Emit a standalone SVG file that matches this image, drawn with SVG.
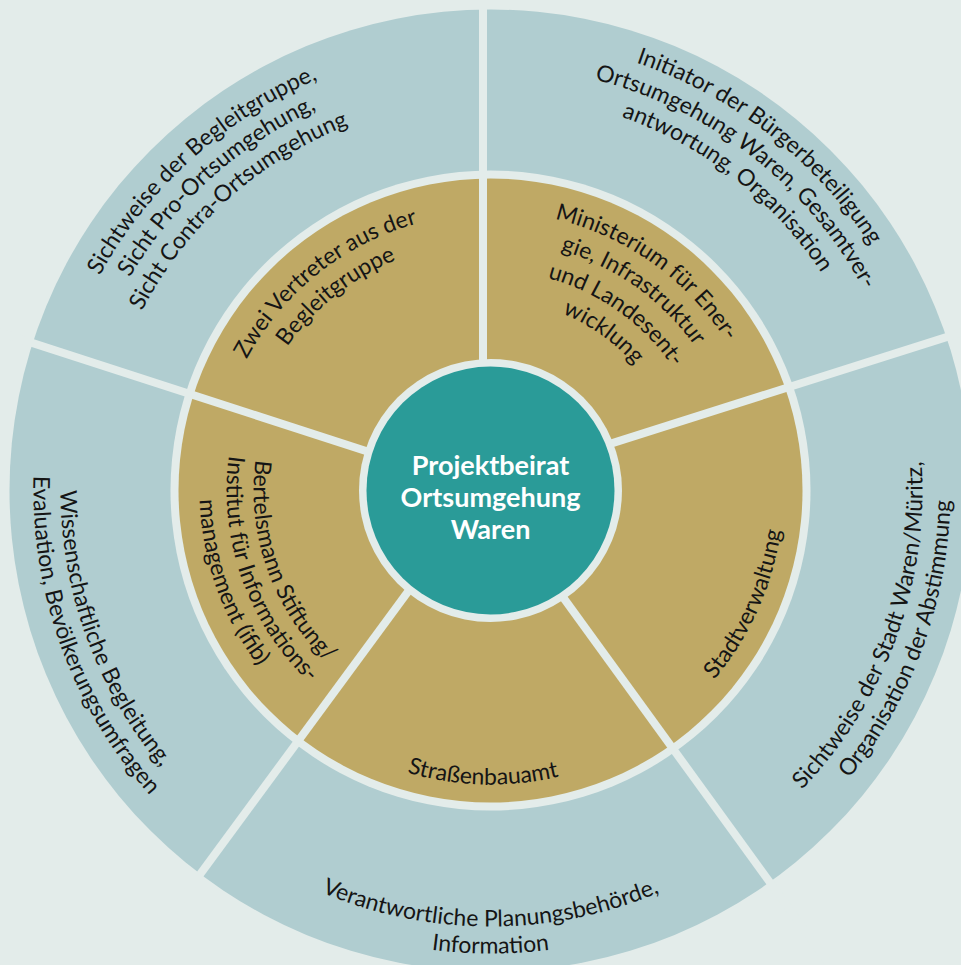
<svg xmlns="http://www.w3.org/2000/svg" width="961" height="965" viewBox="0 0 961 965">
<style>
.bg{fill:#e3ecea}
.outer{fill:#b0cdd0}
.gold{fill:#bfa965}
.teal{fill:#2a9b98}
.div{stroke:#e3ecea;stroke-width:8;fill:none}
.lbl{font-family:Lato,"Open Sans","Liberation Sans",sans-serif;font-size:23px;fill:#151515}
.ctr{font-family:Lato,"Open Sans","Liberation Sans",sans-serif;font-size:27px;font-weight:bold;fill:#ffffff;text-anchor:middle}
</style>
<defs>
<path id="a1" d="M54.3,583.2 A446,446 0 0 1 628.3,66.3"/>
<path id="a2" d="M80.7,577.6 A419,419 0 0 1 620.0,92.0"/>
<path id="a3" d="M107.1,572.0 A392,392 0 0 1 611.6,117.7"/>
<path id="b1" d="M321.2,71.4 A452,452 0 0 1 938.1,553.4"/>
<path id="b2" d="M331.7,97.4 A424,424 0 0 1 910.4,549.5"/>
<path id="b3" d="M342.2,123.3 A396,396 0 0 1 882.7,545.6"/>
<path id="c1" d="M565.5,915.9 A432,432 0 0 0 821.4,212.8"/>
<path id="c2" d="M570.4,943.5 A460,460 0 0 0 842.9,194.8"/>
<path id="d1" d="M112.9,708.5 A436,436 0 0 0 868.1,708.5"/>
<path id="d2" d="M89.5,722.0 A463,463 0 0 0 891.5,722.0"/>
<path id="e1" d="M161.1,214.1 A430,430 0 0 0 415.9,914.0"/>
<path id="e2" d="M140.4,196.7 A457,457 0 0 0 411.2,940.6"/>
<path id="f1" d="M216.6,531.4 A277,277 0 0 1 592.0,232.8"/>
<path id="f2" d="M244.2,527.3 A249,249 0 0 1 581.8,258.8"/>
<path id="g1" d="M374.8,236.6 A279,279 0 0 1 768.2,517.2"/>
<path id="g2" d="M386.8,263.0 A250,250 0 0 1 739.4,514.5"/>
<path id="g3" d="M399.3,290.3 A220,220 0 0 1 709.5,511.6"/>
<path id="g4" d="M411.3,316.7 A191,191 0 0 1 680.6,508.8"/>
<path id="h1" d="M521.1,781.9 A293,293 0 0 0 727.5,318.3"/>
<path id="i1" d="M232.1,630.8 A294,294 0 0 0 741.2,644.1"/>
<path id="j1" d="M310.3,336.6 A237,237 0 0 0 447.3,723.5"/>
<path id="j2" d="M289.8,319.1 A264,264 0 0 0 442.4,750.1"/>
<path id="j3" d="M269.2,301.5 A291,291 0 0 0 437.5,776.6"/>
</defs>
<rect class="bg" x="0" y="0" width="961" height="965"/>
<g id="rings">
<circle class="outer" cx="490.5" cy="490.5" r="481"/>
<circle class="bg" cx="490.5" cy="490.5" r="320"/>
<circle class="gold" cx="490.5" cy="490.5" r="312"/>
</g>
<g id="connectors">
<line class="div" x1="483" y1="491" x2="483" y2="-10"/>
<line class="div" x1="491" y1="481.7" x2="975" y2="328"/>
<line class="div" x1="486" y1="491" x2="848" y2="990"/>
<line class="div" x1="482" y1="491" x2="115" y2="990"/>
<line class="div" x1="491" y1="491.5" x2="-20" y2="326"/>
</g>
<g id="center">
<circle class="bg" cx="490.5" cy="490.5" r="131.5"/>
<circle class="teal" cx="490.5" cy="490.5" r="124"/>
<text class="ctr" x="490.5" y="475">Projektbeirat</text>
<text class="ctr" x="490.5" y="507">Ortsumgehung</text>
<text class="ctr" x="490.5" y="539">Waren</text>
</g>
<g id="outer-begleitgruppe" class="lbl" text-anchor="middle">
<text><textPath href="#a1" startOffset="50%">Sichtweise der Begleitgruppe,</textPath></text>
<text><textPath href="#a2" startOffset="50%">Sicht Pro-Ortsumgehung,</textPath></text>
<text><textPath href="#a3" startOffset="50%">Sicht Contra-Ortsumgehung</textPath></text>
</g>
<g id="outer-initiator" class="lbl" text-anchor="middle">
<text><textPath href="#b1" startOffset="50%">Initiator der Bürgerbeteiligung</textPath></text>
<text><textPath href="#b2" startOffset="50%">Ortsumgehung Waren, Gesamtver-</textPath></text>
<text><textPath href="#b3" startOffset="50%">antwortung, Organisation</textPath></text>
</g>
<g id="outer-stadt" class="lbl" text-anchor="middle">
<text><textPath href="#c1" startOffset="50%">Sichtweise der Stadt Waren/Müritz,</textPath></text>
<text><textPath href="#c2" startOffset="50%">Organisation der Abstimmung</textPath></text>
</g>
<g id="outer-planung" class="lbl" text-anchor="middle">
<text><textPath href="#d1" startOffset="50%">Verantwortliche Planungsbehörde,</textPath></text>
<text><textPath href="#d2" startOffset="50%">Information</textPath></text>
</g>
<g id="outer-wissenschaft" class="lbl" text-anchor="middle">
<text><textPath href="#e1" startOffset="50%">Wissenschaftliche Begleitung,</textPath></text>
<text><textPath href="#e2" startOffset="50%">Evaluation, Bevölkerungsumfragen</textPath></text>
</g>
<g id="inner-vertreter" class="lbl" text-anchor="middle">
<text><textPath href="#f1" startOffset="50%">Zwei Vertreter aus der</textPath></text>
<text><textPath href="#f2" startOffset="50%">Begleitgruppe</textPath></text>
</g>
<g id="inner-ministerium" class="lbl" text-anchor="middle">
<text><textPath href="#g1" startOffset="50%">Ministerium für Ener-</textPath></text>
<text><textPath href="#g2" startOffset="50%">gie, Infrastruktur</textPath></text>
<text><textPath href="#g3" startOffset="50%">und Landesent-</textPath></text>
<text><textPath href="#g4" startOffset="50%">wicklung</textPath></text>
</g>
<g id="inner-stadtverwaltung" class="lbl" text-anchor="middle">
<text><textPath href="#h1" startOffset="50%">Stadtverwaltung</textPath></text>
</g>
<g id="inner-strassenbauamt" class="lbl" text-anchor="middle">
<text><textPath href="#i1" startOffset="50%">Straßenbauamt</textPath></text>
</g>
<g id="inner-bertelsmann" class="lbl" text-anchor="middle">
<text><textPath href="#j1" startOffset="50%">Bertelsmann Stiftung/</textPath></text>
<text><textPath href="#j2" startOffset="50%">Institut für Informations-</textPath></text>
<text><textPath href="#j3" startOffset="50%">management (ifib)</textPath></text>
</g>
</svg>
